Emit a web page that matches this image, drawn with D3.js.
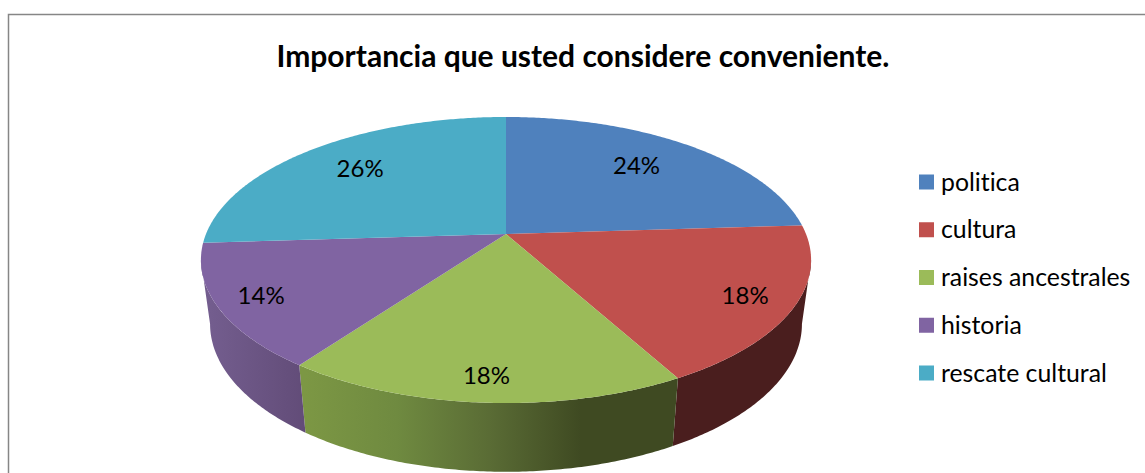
<!DOCTYPE html>
<html><head><meta charset="utf-8">
<script src="https://cdn.jsdelivr.net/npm/d3@7/dist/d3.min.js"></script>
<style>html,body{margin:0;padding:0;background:#fff}svg{display:block}text{font-family:Lato,"Open Sans",sans-serif;fill:#000;font-variant-ligatures:none}</style>
</head><body><div id="chart"></div>
<script>
const titleText = "Importancia que usted considere conveniente.";
const categories = ["politica","cultura","raises ancestrales","historia","rescate cultural"];
const values = [24,18,18,14,26];
const colors = ["#4f81bd","#c0504d","#9bbb59","#8064a2","#4bacc6"];
const wallStops = [
  ["#2d4a70","#2d4a70"],
  ["#4a1e1e","#4a1e1e"],
  ["#7c9744","#6f8a40","#5a6c35","#3f4a22","#3f4a22"],
  ["#735d8e","#624c78"],
  ["#2c6a7c","#2c6a7c"]
];
const labelRadius = [0.72,0.83,0.85,0.85,0.75];
const labelNudgeY = [-5,0,-3,-2,-3];

const W=1145,H=473;
const svg=d3.select("#chart").append("svg").attr("width",W).attr("height",H);
const P=0.1818;
const topFace={cx:506,cy:234,rx:300,ry:138.3};
const botFace={cx:506,cy:297,rx:291,ry:143};
const TAU=2*Math.PI;
const project=(f,a,r=1)=>{const w=1+P*Math.cos(a)*r;return [f.cx+f.rx*r*Math.sin(a)/w,f.cy-f.ry*r*Math.cos(a)/w];};
const arcs=d3.pie().sort(null)(values);
const line=d3.line();
const sample=(a0,a1)=>{const n=Math.max(2,Math.ceil((a1-a0)/0.01));return d3.range(n+1).map(i=>a0+(a1-a0)*i/n);};
const tangentA=Math.acos(-P), tangentB=TAU-tangentA;

const defs=svg.append("defs");
const wg=svg.append("g");
arcs.forEach((d,i)=>{
  const a0=Math.max(d.startAngle,tangentA),a1=Math.min(d.endAngle,tangentB);
  if(a1<=a0) return;
  const xL=project(botFace,a1)[0],xR=project(botFace,a0)[0];
  const stops=wallStops[i];
  const g=defs.append("linearGradient").attr("id","w"+i).attr("gradientUnits","userSpaceOnUse")
    .attr("x1",Math.min(xL,xR)).attr("x2",Math.max(xL,xR)).attr("y1",0).attr("y2",0);
  stops.forEach((c,k)=>g.append("stop").attr("offset",k/(stops.length-1)).attr("stop-color",c));
  const as=sample(a0,a1);
  const pts=as.map(a=>project(topFace,a)).concat(as.slice().reverse().map(a=>project(botFace,a)));
  wg.append("path").attr("d",line(pts)+"Z").attr("fill",`url(#w${i})`);
});
const tg=svg.append("g");
arcs.forEach((d,i)=>{
  const pts=[[topFace.cx,topFace.cy]].concat(sample(d.startAngle,d.endAngle).map(a=>project(topFace,a)));
  tg.append("path").attr("d",line(pts)+"Z").attr("fill",colors[i]);
});
const lg=svg.append("g").attr("font-size",24);
arcs.forEach((d,i)=>{
  const p=project(topFace,(d.startAngle+d.endAngle)/2,1);
  const c=[topFace.cx+(p[0]-topFace.cx)*labelRadius[i],topFace.cy+(p[1]-topFace.cy)*labelRadius[i]+labelNudgeY[i]];
  lg.append("text").attr("x",c[0]).attr("y",c[1]).attr("text-anchor","middle").attr("dominant-baseline","central")
    .text(d3.format(".0%")(d.value/d3.sum(values)));
});
svg.append("text").attr("x",583).attr("y",67).attr("text-anchor","middle").attr("font-size",30).attr("font-weight",700).text(titleText);
const yL=d3.scalePoint().domain(categories).range([182,373]);
const leg=svg.append("g");
categories.forEach((c,i)=>{
  leg.append("rect").attr("x",919).attr("y",yL(c)-7.5).attr("width",15).attr("height",15).attr("fill",colors[i]);
  leg.append("text").attr("x",941).attr("y",yL(c)+8.5).attr("font-size",24.8).text(c);
});
svg.append("path").attr("d",`M${W},14.5H8.5V${H}`).attr("fill","none").attr("stroke","#868686").attr("stroke-width",1.5);
</script></body></html>
